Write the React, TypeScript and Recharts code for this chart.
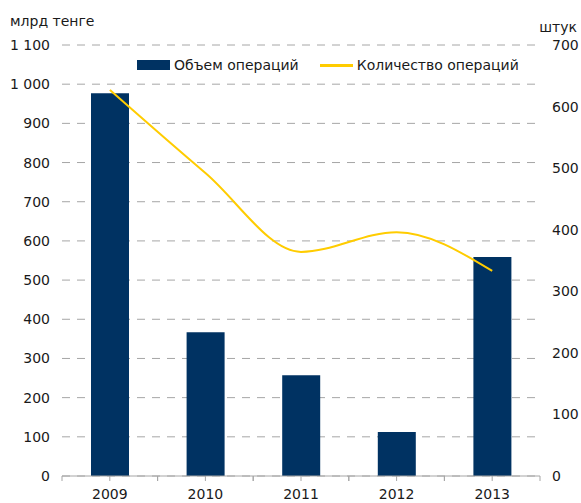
import { ComposedChart, Bar, Line, XAxis, YAxis, CartesianGrid, Legend } from "recharts";

const years = ["2009", "2010", "2011", "2012", "2013"];
const volume = [977, 367, 257, 112, 559];
const count = [627, 492, 364, 396, 333];
const leftTicks = [0, 100, 200, 300, 400, 500, 600, 700, 800, 900, 1000, 1100];
const rightTicks = [0, 100, 200, 300, 400, 500, 600, 700];

const W = 581;
const H = 503;
const PLOT_LEFT = 62;
const PLOT_RIGHT = 540;
const BAND = (PLOT_RIGHT - PLOT_LEFT) / years.length;
const FONT = "'DejaVu Sans', Verdana, sans-serif";
const TEXT = "#1a1a1a";
const NAVY = "#003262";
const GOLD = "#FFCC00";
const AXIS = "#a6a6a6";

const data = years.map((year, i) => ({ year, volume: volume[i], count: count[i] }));

const fmt = (v: number) => String(v).replace(/\B(?=(\d{3})+(?!\d))/g, " ");

function YearTick(props: any) {
  const { x, y, payload } = props;
  return (
    <g>
      {[x - BAND / 2, x, x + BAND / 2].map((tx, i) => (
        <line key={i} x1={tx} y1={y} x2={tx} y2={y + 5} stroke={AXIS} strokeWidth={1} />
      ))}
      <text x={x} y={y + 23} textAnchor="middle" fill={TEXT} fontSize={14} fontFamily={FONT}>
        {payload.value}
      </text>
    </g>
  );
}

function LegendBox() {
  return (
    <div style={{ display: "flex", alignItems: "center", fontFamily: FONT, fontSize: 14, color: TEXT, whiteSpace: "nowrap" }}>
      <span style={{ display: "inline-block", width: 33, height: 10, background: NAVY, marginRight: 4 }} />
      <span>Объем операций</span>
      <span style={{ display: "inline-block", width: 33, height: 3, background: GOLD, marginLeft: 21, marginRight: 4 }} />
      <span>Количество операций</span>
    </div>
  );
}

export default function App() {
  return (
    <div style={{ position: "absolute", left: 0, top: 0, width: W, height: H, fontFamily: FONT, background: "#fff" }}>
      <div style={{ position: "absolute", left: 10, top: 13, fontSize: 14, color: TEXT }}>млрд тенге</div>
      <div style={{ position: "absolute", right: 4, top: 19, fontSize: 14, color: TEXT }}>штук</div>
      <ComposedChart
        width={W}
        height={H}
        data={data}
        margin={{ top: 45, right: 0, bottom: 0, left: 0 }}
        barCategoryGap={0}
        style={{ fontFamily: FONT }}
      >
        <CartesianGrid vertical={false} stroke={AXIS} strokeDasharray="8 7" yAxisId="left" />
        <XAxis
          dataKey="year"
          height={27}
          axisLine={{ stroke: AXIS }}
          tickLine={false}
          tickSize={0}
          tickMargin={0}
          tick={<YearTick />}
          interval={0}
        />
        <YAxis
          yAxisId="left"
          width={62}
          domain={[0, 1100]}
          ticks={leftTicks}
          tickFormatter={fmt}
          axisLine={false}
          tickLine={false}
          tickSize={0}
          tickMargin={12}
          tick={{ fill: TEXT, fontSize: 14 }}
          interval={0}
        />
        <YAxis
          yAxisId="right"
          orientation="right"
          width={41}
          domain={[0, 700]}
          ticks={rightTicks}
          axisLine={false}
          tickLine={false}
          tickSize={0}
          tickMargin={12}
          tick={{ fill: TEXT, fontSize: 14 }}
          interval={0}
        />
        <Legend
          layout="horizontal"
          verticalAlign="middle"
          align="center"
          content={<LegendBox />}
          wrapperStyle={{ top: 57, left: 137, width: "auto", height: 18 }}
        />
        <Bar yAxisId="left" dataKey="volume" name="Объем операций" fill={NAVY} barSize={38} isAnimationActive={false} />
        <Line
          yAxisId="right"
          type="monotone"
          dataKey="count"
          name="Количество операций"
          stroke={GOLD}
          strokeWidth={2}
          dot={false}
          activeDot={false}
          isAnimationActive={false}
        />
      </ComposedChart>
    </div>
  );
}
